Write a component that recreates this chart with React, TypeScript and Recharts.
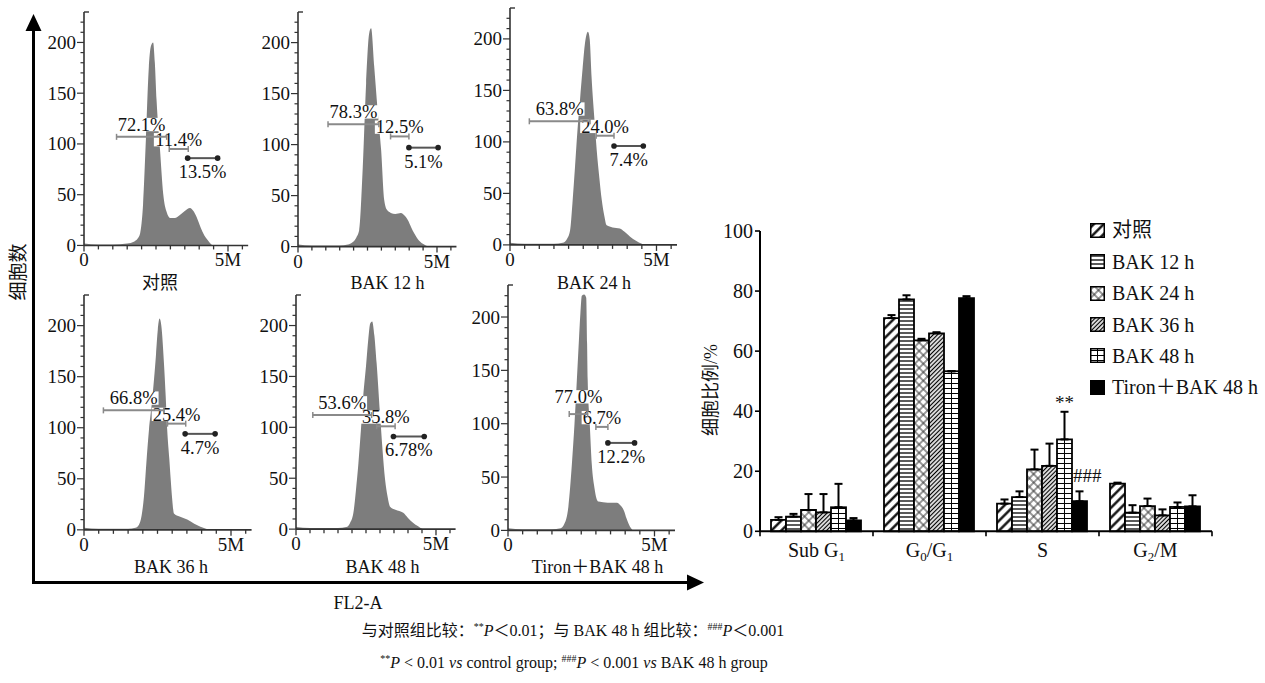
import React from 'react';
import {
  ComposedChart,
  Area,
  XAxis,
  YAxis,
  ReferenceLine,
  BarChart,
  Bar,
  ErrorBar,
  LabelList,
  Legend,
} from 'recharts';

const SERIF = "'Liberation Serif', 'Times New Roman', 'Noto Sans CJK SC', serif";

// ---- flow cytometry histograms: [FL2-A (M), cell count] ----
const histCtrl = [[0, 2], [0.5, 1], [1.0, 1], [1.5, 2], [1.75, 4], [1.87, 7], [1.95, 12], [2.05, 40], [2.15, 105], [2.25, 175], [2.32, 196], [2.4, 200], [2.46, 180], [2.52, 143], [2.64, 94], [2.75, 51], [2.87, 33], [3.0, 27], [3.15, 27], [3.33, 30], [3.5, 34], [3.68, 37], [3.8, 34], [3.91, 28], [4.02, 20], [4.14, 12], [4.3, 5], [4.48, 0], [5.5, 0]];
const hist12 = [[0, 2], [0.5, 1], [1.0, 1], [1.5, 1], [1.8, 2], [1.95, 4], [2.1, 9], [2.2, 16], [2.33, 78], [2.45, 160], [2.56, 209], [2.63, 214], [2.74, 177], [2.86, 135], [2.99, 95], [3.1, 46], [3.2, 36], [3.34, 33], [3.5, 32], [3.7, 33], [3.85, 30], [3.95, 26], [4.07, 19], [4.18, 13], [4.35, 6], [4.54, 2], [4.7, 0], [5.5, 0]];
const hist24 = [[0, 2], [0.5, 1], [1.0, 1], [1.5, 1], [1.8, 2], [1.95, 6], [2.05, 14], [2.13, 40], [2.22, 76], [2.3, 110], [2.39, 141], [2.48, 172], [2.56, 196], [2.61, 204], [2.66, 207], [2.72, 200], [2.78, 165], [2.9, 115], [2.96, 92], [3.05, 65], [3.13, 44], [3.22, 28], [3.3, 19], [3.5, 17], [3.75, 16], [3.9, 13], [4.1, 8], [4.3, 4], [4.5, 1], [4.6, 0], [5.5, 0]];
const hist36 = [[0, 2], [0.5, 1], [1.0, 1], [1.5, 1], [1.75, 2], [1.87, 5], [1.96, 14], [2.04, 33], [2.12, 65], [2.21, 98], [2.3, 122], [2.38, 147], [2.45, 172], [2.51, 196], [2.57, 207], [2.63, 200], [2.72, 163], [2.78, 130], [2.83, 98], [2.9, 70], [2.95, 49], [3.0, 30], [3.06, 16], [3.25, 13], [3.51, 10], [3.75, 6], [3.96, 3], [4.15, 1], [4.3, 0], [5.5, 0]];
const hist48 = [[0, 2], [0.5, 1], [1.0, 1], [1.5, 1], [1.8, 2], [1.93, 6], [2.05, 16], [2.14, 38], [2.23, 65], [2.32, 98], [2.4, 130], [2.5, 160], [2.58, 186], [2.65, 202], [2.72, 204], [2.8, 190], [2.88, 163], [3.0, 114], [3.09, 78], [3.18, 49], [3.27, 32], [3.36, 22], [3.55, 19], [3.83, 16], [4.0, 11], [4.19, 6], [4.35, 3], [4.55, 0], [5.5, 0]];
const histTiron = [[0, 2], [0.5, 1], [1.0, 1], [1.5, 1], [1.8, 2], [1.92, 6], [2.0, 12], [2.06, 22], [2.18, 62], [2.27, 100], [2.35, 141], [2.42, 178], [2.47, 203], [2.52, 220], [2.6, 221], [2.67, 218], [2.7, 175], [2.72, 141], [2.79, 100], [2.86, 62], [2.95, 40], [3.02, 30], [3.09, 27], [3.4, 26], [3.72, 26], [3.85, 23], [3.95, 19], [4.05, 11], [4.12, 6], [4.2, 2], [4.28, 0], [5.5, 0]];

// gates: [from (M), to (M), level]
const gateCtrl = [[1.13, 2.87, 107], [2.96, 3.62, 95], [3.6, 4.64, 86]];
const gate12 = [[1.08, 2.91, 120], [3.33, 3.99, 108], [3.99, 5.04, 97]];
const gate24 = [[0.66, 2.73, 120], [2.94, 3.55, 106], [3.55, 4.55, 96]];
const gate36 = [[0.66, 2.72, 117], [2.84, 3.46, 104], [3.44, 4.46, 94]];
const gate48 = [[0.6, 2.7, 112], [2.88, 3.54, 101], [3.48, 4.58, 91]];
const gateTiron = [[2.09, 2.72, 109], [3.0, 3.41, 97], [3.41, 4.32, 82]];

const pctCtrl = ['72.1%', '11.4%', '13.5%'];
const pct12 = ['78.3%', '12.5%', '5.1%'];
const pct24 = ['63.8%', '24.0%', '7.4%'];
const pct36 = ['66.8%', '25.4%', '4.7%'];
const pct48 = ['53.6%', '35.8%', '6.78%'];
const pctTiron = ['77.0%', '6.7%', '12.2%'];

const panelNames = ['对照', 'BAK 12 h', 'BAK 24 h', 'BAK 36 h', 'BAK 48 h', 'Tiron＋BAK 48 h'];
const histXTicks = [0, 0.5, 1, 1.5, 2, 2.5, 3, 3.5, 4, 4.5, 5, 5.5];
const histXLabels = ['0', '', '', '', '', '', '', '', '', '', '5M', ''];
const histYTicks = [0, 10, 20, 30, 40, 50, 60, 70, 80, 90, 100, 110, 120, 130, 140, 150, 160, 170, 180, 190, 200, 210, 220, 230];

// ---- cell cycle distribution (%) ----
const phaseKeys = ['Sub G1', 'G0/G1', 'S', 'G2/M'];
const phaseLabels = [['Sub G', '1'], ['G', '0', '/G', '1'], ['S'], ['G', '2', '/M']];
const groupNames = ['对照', 'BAK 12 h', 'BAK 24 h', 'BAK 36 h', 'BAK 48 h', 'Tiron＋BAK 48 h'];
const ctrlPct = [3.8, 71.0, 9.2, 15.9];
const ctrlSd = [0.9, 1.0, 1.4, 0.3];
const b12Pct = [4.9, 77.2, 11.4, 6.2];
const b12Sd = [0.9, 1.4, 1.9, 2.5];
const b24Pct = [7.1, 63.6, 20.6, 8.4];
const b24Sd = [5.3, 0.5, 6.6, 2.5];
const b36Pct = [6.3, 65.9, 21.8, 5.3];
const b36Sd = [6.1, 0.4, 7.4, 2.0];
const b48Pct = [8.0, 53.3, 30.6, 8.1];
const b48Sd = [7.8, 0, 9.2, 1.5];
const tironPct = [3.6, 77.6, 10.0, 8.3];
const tironSd = [0.8, 0.7, 3.3, 3.7];
const sigVsCtrl = ['', '', '**', ''];
const sigVsB48 = ['', '', '###', ''];
const pctTicks = [0, 20, 40, 60, 80, 100];

const Y_MAX = 230;
const X_MAX = 5.7;
const AXW = 44;
const TOPM = 4;
const XAH = 30;
const RIGHTM = 6;
const PCT_FS = 18.5;

const PANELS = [
  { hist: histCtrl, gates: gateCtrl, pct: pctCtrl, ax: 83.5, zero: 245, ppu: 1.015, ppm: 28.8, capX: 160, capY: 289 },
  { hist: hist12, gates: gate12, pct: pct12, ax: 297.5, zero: 246.5, ppu: 1.02, ppm: 27.8, capX: 387.5, capY: 289 },
  { hist: hist24, gates: gate24, pct: pct24, ax: 510, zero: 245, ppu: 1.03, ppm: 29.3, capX: 594, capY: 289 },
  { hist: hist36, gates: gate36, pct: pct36, ax: 83.5, zero: 530, ppu: 1.021, ppm: 29.4, capX: 171, capY: 573 },
  { hist: hist48, gates: gate48, pct: pct48, ax: 296, zero: 529.5, ppu: 1.018, ppm: 28, capX: 382.5, capY: 573 },
  { hist: histTiron, gates: gateTiron, pct: pctTiron, ax: 508, zero: 530, ppu: 1.067, ppm: 29.3, capX: 597.5, capY: 573 },
];

function textWidth(s: string) {
  let w = 0;
  for (const c of s) w += c === '.' ? 0.25 : c === '%' ? 0.833 : 0.5;
  return w;
}

const HistXTick = (props: any) => {
  const { x, y, index } = props;
  const lbl = histXLabels[index] ?? '';
  const major = lbl !== '';
  return (
    <g>
      <line x1={x} x2={x} y1={y} y2={y + (major ? 6 : 4)} stroke="#333" strokeWidth={1.3} />
      {major && (
        <text x={x} y={y + 21} textAnchor="middle" fontSize={19} fontFamily={SERIF} fill="#111">
          {lbl}
        </text>
      )}
    </g>
  );
};

const HistYTick = (props: any) => {
  const { x, y, payload } = props;
  const v = payload.value;
  if (v === Y_MAX) return <line x1={x} x2={x + 5} y1={y} y2={y} stroke="#333" strokeWidth={1.4} />;
  const major = v % 50 === 0;
  return (
    <g>
      <line x1={x - (major ? 7 : 3.5)} x2={x} y1={y} y2={y} stroke="#333" strokeWidth={1.2} />
      {major && (
        <text x={x - 8} y={y + 6.5} textAnchor="end" fontSize={19} fontFamily={SERIF} fill="#111">
          {v}
        </text>
      )}
    </g>
  );
};

// label of a gate: first two above the bar, third below
function gateLabel(text: string, idx: number, raise: number) {
  return (lp: any) => {
    const { x1, y1, x2 } = lp;
    const cx = (x1 + x2) / 2;
    const fs = PCT_FS;
    const tw = textWidth(text) * fs;
    const base = idx === 2 ? y1 + 20 : y1 - (idx === 0 ? 6 + raise : 3);
    return (
      <g>
        <rect x={cx - tw / 2 - 1} y={base - fs * 0.7} width={tw + 2} height={fs * 0.72} fill="#fff" />
        <text x={cx} y={base} textAnchor="middle" fontSize={fs} fontFamily={SERIF} fill="#111">
          {text}
        </text>
      </g>
    );
  };
}

function gateBar(idx: number) {
  return (lp: any) => {
    const { x1, y1, x2 } = lp;
    const xa = Math.min(x1, x2);
    const xb = Math.max(x1, x2);
    if (idx === 2) {
      return (
        <g>
          <line x1={xa} x2={xb} y1={y1} y2={y1} stroke="#555" strokeWidth={2} />
          <circle cx={xa} cy={y1} r={2.8} fill="#222" />
          <circle cx={xb} cy={y1} r={2.8} fill="#222" />
        </g>
      );
    }
    const col = '#8a8a8a';
    return (
      <g>
        <line x1={xa} x2={xb} y1={y1} y2={y1} stroke={col} strokeWidth={2} />
        <line x1={xa} x2={xa} y1={y1 - 3} y2={y1 + 3} stroke={col} strokeWidth={1.5} />
        <line x1={xb} x2={xb} y1={y1 - 3} y2={y1 + 3} stroke={col} strokeWidth={1.5} />
      </g>
    );
  };
}

function HistPanel({ p }: { p: (typeof PANELS)[number] }) {
  const plotH = Y_MAX * p.ppu;
  const plotW = X_MAX * p.ppm;
  const data = p.hist.map(([x, y]) => ({ x, y }));
  // lift the first label when it would run into the second one
  const g0 = p.gates[0];
  const g1 = p.gates[1];
  const right0 = ((g0[0] + g0[1]) / 2) * p.ppm + (textWidth(p.pct[0]) * PCT_FS) / 2;
  const left1 = ((g1[0] + g1[1]) / 2) * p.ppm - (textWidth(p.pct[1]) * PCT_FS) / 2;
  const raise = right0 - left1 > 15 ? 5 : 0;
  return (
    <div style={{ position: 'absolute', left: p.ax - AXW, top: p.zero - plotH - TOPM }}>
      <ComposedChart
        width={AXW + plotW + RIGHTM}
        height={TOPM + plotH + XAH}
        data={data}
        margin={{ top: TOPM, right: RIGHTM, left: 0, bottom: 0 }}
        style={{ overflow: 'visible' }}
      >
        <XAxis
          dataKey="x"
          type="number"
          domain={[0, X_MAX]}
          ticks={histXTicks}
          interval={0}
          tick={HistXTick}
          tickLine={false}
          tickSize={0}
          tickMargin={0}
          height={XAH}
          axisLine={{ stroke: '#333', strokeWidth: 1.6 }}
        />
        <YAxis
          type="number"
          domain={[0, Y_MAX]}
          ticks={histYTicks}
          interval={0}
          tick={HistYTick}
          tickLine={false}
          tickSize={0}
          tickMargin={0}
          width={AXW}
          axisLine={{ stroke: '#333', strokeWidth: 1.6 }}
        />
        <Area
          type="monotone"
          dataKey="y"
          stroke="none"
          fill="#7d7d7d"
          fillOpacity={1}
          dot={false}
          activeDot={false}
          isAnimationActive={false}
        />
        {p.gates.map((g, i) => (
          <ReferenceLine
            key={'l' + i}
            segment={[{ x: g[0], y: g[2] }, { x: g[1], y: g[2] }]}
            shape={gateLabel(p.pct[i], i, raise)}
          />
        ))}
        {p.gates.map((g, i) => (
          <ReferenceLine key={'g' + i} segment={[{ x: g[0], y: g[2] }, { x: g[1], y: g[2] }]} shape={gateBar(i)} />
        ))}
      </ComposedChart>
    </div>
  );
}

// ---- bar chart ----
const SERIES = [
  { key: 'ctrl', vals: ctrlPct, sds: ctrlSd, fill: 'url(#pt-ctrl)' },
  { key: 'b12', vals: b12Pct, sds: b12Sd, fill: 'url(#pt-b12)' },
  { key: 'b24', vals: b24Pct, sds: b24Sd, fill: 'url(#pt-b24)' },
  { key: 'b36', vals: b36Pct, sds: b36Sd, fill: 'url(#pt-b36)' },
  { key: 'b48', vals: b48Pct, sds: b48Sd, fill: 'url(#pt-b48)' },
  { key: 'tiron', vals: tironPct, sds: tironSd, fill: '#000' },
];

const barRows = phaseKeys.map((phase, i) => {
  const row: Record<string, any> = { phase };
  SERIES.forEach((s) => {
    row[s.key] = s.vals[i];
    row[s.key + 'Sd'] = [0, s.sds[i]];
  });
  return row;
});

const PLOT_LEFT = 760;
const PLOT_TOP = 230.7;
const PLOT_W = 452;
const PLOT_H = 300.3;
const B_AXW = 70;
const B_TOP = 20;
const B_RIGHT = 10;
const B_XAH = 45;

const PhaseTick = (props: any) => {
  const { x, y, index, payload } = props;
  const half = payload && payload.offset ? payload.offset : PLOT_W / 8;
  const parts = phaseLabels[index] || [];
  return (
    <g>
      <line x1={x - half} x2={x - half} y1={y} y2={y + 5} stroke="#000" strokeWidth={1.6} />
      {index === phaseLabels.length - 1 && (
        <line x1={x + half} x2={x + half} y1={y} y2={y + 5} stroke="#000" strokeWidth={1.6} />
      )}
      <text x={x} y={y + 26} textAnchor="middle" fontSize={20} fontFamily={SERIF} fill="#111">
        {parts.map((s, k) =>
          k % 2 === 1 ? (
            <tspan key={k} fontSize={13} dy={4}>
              {s}
            </tspan>
          ) : (
            <tspan key={k} dy={k > 0 ? -4 : 0}>
              {s}
            </tspan>
          )
        )}
      </text>
    </g>
  );
};

const PctTick = (props: any) => {
  const { x, y, payload } = props;
  return (
    <g>
      <line x1={x - 5} x2={x} y1={y} y2={y} stroke="#000" strokeWidth={1.6} />
      <text x={x - 7} y={y + 7} textAnchor="end" fontSize={20} fontFamily={SERIF} fill="#111">
        {payload.value}
      </text>
    </g>
  );
};

function sigLabel(marks: string[], vals: number[], sds: number[], start: boolean) {
  return (props: any) => {
    const vb = props.viewBox || props;
    const i = props.index != null ? props.index : vals.indexOf(Number(props.value));
    const mark = marks[i];
    if (!mark) return null;
    const { x, y, width, height } = vb;
    const v = vals[i];
    const errTop = y - (height / v) * sds[i];
    return (
      <text
        x={start ? x + 1 : x + width / 2}
        y={start ? errTop - 9 : errTop - 3}
        textAnchor={start ? 'start' : 'middle'}
        fontSize={19}
        fontFamily={SERIF}
        fill="#111"
      >
        {mark}
      </text>
    );
  };
}

const gridBar = (p: any) => {
  const { x, y, width, height } = p;
  if (!height || height <= 0) return <g />;
  return (
    <g>
      <rect x={x} y={y} width={width} height={height} fill="url(#pt-b48)" stroke="#000" strokeWidth={1.8} />
      <line x1={x + width / 2} x2={x + width / 2} y1={y} y2={y + height} stroke="#000" strokeWidth={1} />
    </g>
  );
};

const renderLegend = () => (
  <div style={{ fontFamily: SERIF, fontSize: 20, color: '#111' }}>
    {groupNames.map((n, i) => (
      <div key={n} style={{ display: 'flex', alignItems: 'center', height: 31.4, whiteSpace: 'nowrap' }}>
        <svg width={15} height={15} style={{ marginRight: 7, flex: 'none' }}>
          <rect x={0.75} y={0.75} width={13.5} height={13.5} fill={SERIES[i].fill} stroke="#000" strokeWidth={1.5} />
          {i === 4 && <line x1={7.5} x2={7.5} y1={0.75} y2={14.25} stroke="#000" strokeWidth={1} />}
        </svg>
        <span style={{ lineHeight: '20px' }}>{n}</span>
      </div>
    ))}
  </div>
);

function PhaseBars() {
  return (
    <div style={{ position: 'absolute', left: PLOT_LEFT - B_AXW, top: PLOT_TOP - B_TOP }}>
      <BarChart
        width={B_AXW + PLOT_W + B_RIGHT}
        height={B_TOP + PLOT_H + B_XAH}
        data={barRows}
        margin={{ top: B_TOP, right: B_RIGHT, left: 0, bottom: 0 }}
        barCategoryGap={11}
        barGap={0}
        style={{ overflow: 'visible' }}
      >
        <defs>
          <pattern id="pt-ctrl" patternUnits="userSpaceOnUse" width={7} height={7} patternTransform="rotate(45)">
            <rect width={7} height={7} fill="#fff" />
            <line x1={3.5} y1={0} x2={3.5} y2={7} stroke="#000" strokeWidth={2.3} />
          </pattern>
          <pattern id="pt-b12" patternUnits="userSpaceOnUse" width={4} height={4}>
            <rect width={4} height={4} fill="#fff" />
            <line x1={0} y1={2} x2={4} y2={2} stroke="#000" strokeWidth={1.3} />
          </pattern>
          <pattern id="pt-b24" patternUnits="userSpaceOnUse" width={6} height={6} patternTransform="rotate(45)">
            <rect width={6} height={6} fill="#fff" />
            <line x1={3} y1={0} x2={3} y2={6} stroke="#333" strokeWidth={1} />
            <line x1={0} y1={3} x2={6} y2={3} stroke="#333" strokeWidth={1} />
          </pattern>
          <pattern id="pt-b36" patternUnits="userSpaceOnUse" width={3} height={3} patternTransform="rotate(45)">
            <rect width={3} height={3} fill="#fff" />
            <line x1={1.5} y1={0} x2={1.5} y2={3} stroke="#000" strokeWidth={1.3} />
          </pattern>
          <pattern id="pt-b48" patternUnits="userSpaceOnUse" width={5} height={5}>
            <rect width={5} height={5} fill="#fff" />
            <line x1={0} y1={2.5} x2={5} y2={2.5} stroke="#000" strokeWidth={1} />
          </pattern>
        </defs>
        <XAxis
          dataKey="phase"
          tick={PhaseTick}
          tickLine={false}
          tickSize={0}
          tickMargin={0}
          interval={0}
          height={B_XAH}
          axisLine={{ stroke: '#000', strokeWidth: 2 }}
        />
        <YAxis
          type="number"
          domain={[0, 100]}
          ticks={pctTicks}
          interval={0}
          tick={PctTick}
          tickLine={false}
          tickSize={0}
          tickMargin={0}
          width={B_AXW}
          axisLine={{ stroke: '#000', strokeWidth: 2 }}
        />
        <Legend
          layout="horizontal"
          verticalAlign="middle"
          align="center"
          content={renderLegend}
          wrapperStyle={{ left: 400, top: 4, width: 180, height: 190 }}
        />
        {SERIES.map((s, si) => (
          <Bar
            key={s.key}
            dataKey={s.key}
            name={groupNames[si]}
            fill={s.fill}
            stroke="#000"
            strokeWidth={1.8}
            isAnimationActive={false}
            shape={s.key === 'b48' ? gridBar : undefined}
          >
            <ErrorBar dataKey={s.key + 'Sd'} direction="y" width={4} stroke="#000" strokeWidth={2} />
            {s.key === 'b48' && (
              <LabelList dataKey="b48" content={sigLabel(sigVsCtrl, b48Pct, b48Sd, false)} />
            )}
            {s.key === 'tiron' && (
              <LabelList dataKey="tiron" content={sigLabel(sigVsB48, tironPct, tironSd, true)} />
            )}
          </Bar>
        ))}
      </BarChart>
    </div>
  );
}

export default function App() {
  return (
    <div
      style={{
        position: 'absolute',
        left: 0,
        top: 0,
        width: 1265,
        height: 683,
        background: '#fff',
        fontFamily: SERIF,
        overflow: 'hidden',
      }}
    >
      {PANELS.map((p, i) => (
        <HistPanel key={i} p={p} />
      ))}
      <PhaseBars />
      <svg
        width={1265}
        height={683}
        style={{ position: 'absolute', left: 0, top: 0, pointerEvents: 'none' }}
        fontFamily={SERIF}
      >
        <line x1={33.5} y1={584} x2={33.5} y2={29} stroke="#000" strokeWidth={3} />
        <polygon points="33.5,14 25.5,31 41.5,31" fill="#000" />
        <line x1={32} y1={582.5} x2={689} y2={582.5} stroke="#000" strokeWidth={3} />
        <polygon points="704,582.5 687,574.5 687,590.5" fill="#000" />
        <text
          x={18}
          y={272}
          transform="rotate(-90 18 272)"
          textAnchor="middle"
          dominantBaseline="central"
          fontSize={19}
          fill="#111"
        >
          细胞数
        </text>
        <text x={358} y={609} textAnchor="middle" fontSize={18} fill="#111">
          FL2-A
        </text>
        {PANELS.map((p, i) => (
          <text key={i} x={p.capX} y={p.capY} textAnchor="middle" fontSize={18} fill="#111">
            {panelNames[i]}
          </text>
        ))}
        <text
          x={711}
          y={390}
          transform="rotate(-90 711 390)"
          textAnchor="middle"
          dominantBaseline="central"
          fontSize={18}
          fill="#111"
        >
          细胞比例/%
        </text>
        <text x={573} y={636} textAnchor="middle" fontSize={16} fill="#111">
          与对照组比较：
          <tspan fontSize={10} dy={-6}>
            **
          </tspan>
          <tspan fontStyle="italic" dy={6}>
            P
          </tspan>
          ＜0.01；与 BAK 48 h 组比较：
          <tspan fontSize={10} dy={-6}>
            ###
          </tspan>
          <tspan fontStyle="italic" dy={6}>
            P
          </tspan>
          ＜0.001
        </text>
        <text x={574} y={668} textAnchor="middle" fontSize={16} fill="#111">
          <tspan fontSize={10} dy={-6}>
            **
          </tspan>
          <tspan fontStyle="italic" dy={6}>
            P
          </tspan>
          {' < 0.01 '}
          <tspan fontStyle="italic">vs</tspan>
          {' control group; '}
          <tspan fontSize={10} dy={-6}>
            ###
          </tspan>
          <tspan fontStyle="italic" dy={6}>
            P
          </tspan>
          {' < 0.001 '}
          <tspan fontStyle="italic">vs</tspan>
          {' BAK 48 h group'}
        </text>
      </svg>
    </div>
  );
}
